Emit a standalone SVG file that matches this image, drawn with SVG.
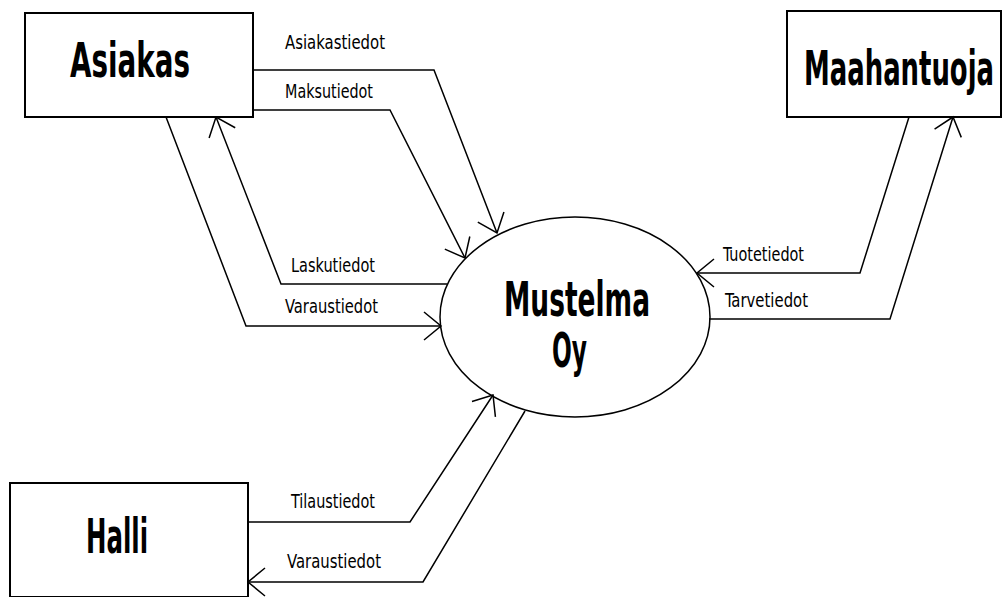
<svg xmlns="http://www.w3.org/2000/svg" width="1002" height="597" viewBox="0 0 1002 597">
<style>
.box{fill:#fff;stroke:#000;stroke-width:2}
.ell{fill:#fff;stroke:#000;stroke-width:1.5}
.con{fill:none;stroke:#000;stroke-width:1.5;marker-end:url(#arr)}
.big{font-family:"Liberation Sans Narrow","DejaVu Sans Condensed","Liberation Sans",sans-serif;font-size:48px;font-weight:bold;fill:#000}
.lbl{font-family:"Liberation Sans Narrow","DejaVu Sans Condensed","Liberation Sans",sans-serif;font-size:20px;fill:#000}
</style>
<defs>
<marker id="arr" markerUnits="userSpaceOnUse" markerWidth="40" markerHeight="40" refX="0" refY="0" viewBox="-30 -20 40 40" orient="auto" overflow="visible">
<path d="M -17 -14 L 0 0 L -17 14" fill="none" stroke="#000" stroke-width="1.5"/>
</marker>
</defs>
<rect width="1002" height="597" fill="#fff"/>
<g id="asiakas">
<rect class="box" x="25" y="13" width="228" height="104"/>
<text class="big" x="70" y="77" textLength="120" lengthAdjust="spacingAndGlyphs">Asiakas</text>
</g>
<g id="maahantuoja">
<rect class="box" x="787" y="11" width="214" height="106"/>
<text class="big" x="804" y="85" textLength="190" lengthAdjust="spacingAndGlyphs">Maahantuoja</text>
</g>
<g id="halli">
<rect class="box" x="10" y="483" width="238" height="114"/>
<text class="big" x="86" y="553" textLength="62" lengthAdjust="spacingAndGlyphs">Halli</text>
</g>
<g id="mustelma">
<ellipse class="ell" cx="575" cy="317" rx="135" ry="100"/>
<text class="big" x="504" y="316" textLength="146" lengthAdjust="spacingAndGlyphs">Mustelma</text>
<text class="big" x="552" y="367" textLength="35" lengthAdjust="spacingAndGlyphs">Oy</text>
</g>
<g id="connectors">
<polyline class="con" points="253,70 434,70 497,233"/>
<polyline class="con" points="253,110 390,110 465,258"/>
<polyline class="con" points="447,284 281,284 216,117"/>
<polyline class="con" points="166,117 246,326 441,326"/>
<polyline class="con" points="909,117 860,273 697,273"/>
<polyline class="con" points="709,319 890,319 953,117"/>
<polyline class="con" points="248,522 410,522 493,395"/>
<polyline class="con" points="525,411 423,582 248,582"/>
<text class="lbl" x="285" y="49" textLength="100" lengthAdjust="spacingAndGlyphs">Asiakastiedot</text>
<text class="lbl" x="285" y="98" textLength="88" lengthAdjust="spacingAndGlyphs">Maksutiedot</text>
<text class="lbl" x="291" y="272" textLength="84" lengthAdjust="spacingAndGlyphs">Laskutiedot</text>
<text class="lbl" x="285" y="313" textLength="93" lengthAdjust="spacingAndGlyphs">Varaustiedot</text>
<text class="lbl" x="723" y="261" textLength="81" lengthAdjust="spacingAndGlyphs">Tuotetiedot</text>
<text class="lbl" x="725" y="307" textLength="83" lengthAdjust="spacingAndGlyphs">Tarvetiedot</text>
<text class="lbl" x="291" y="508" textLength="84" lengthAdjust="spacingAndGlyphs">Tilaustiedot</text>
<text class="lbl" x="287" y="568" textLength="94" lengthAdjust="spacingAndGlyphs">Varaustiedot</text>
</g>
</svg>
